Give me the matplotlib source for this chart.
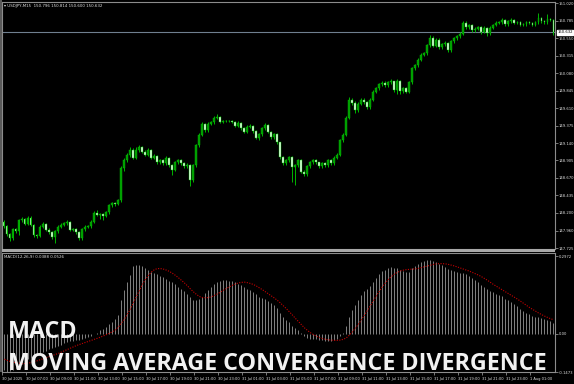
import numpy as np
import matplotlib
matplotlib.use("Agg")
import matplotlib.pyplot as plt
from matplotlib.patches import Rectangle

# -------------------------
# Data (USDJPY M15)
# -------------------------
first_open = 148.08
closes = [
    148.02, 147.91, 147.86, 147.98, 147.95, 148.10, 148.12, 148.05, 148.13, 148.04,
    147.90, 147.89, 148.01, 148.05, 147.97, 147.94, 147.87, 147.95, 148.01, 148.04,
    148.06, 148.08, 147.97, 147.98, 147.94, 147.86, 147.98, 148.01, 148.02, 148.08,
    148.20, 148.17, 148.18, 148.16, 148.21, 148.30, 148.33, 148.32, 148.37, 148.80,
    148.91, 148.98, 149.05, 148.94, 149.05, 149.09, 149.02, 148.98, 149.05, 148.94,
    148.96, 148.88, 148.91, 148.87, 148.94, 148.84, 148.78, 148.88, 148.91, 148.87,
    148.83, 148.84, 148.64, 148.84, 149.11, 149.25, 149.40, 149.31, 149.40, 149.42,
    149.48, 149.49, 149.42, 149.44, 149.43, 149.44, 149.42, 149.37, 149.41, 149.34,
    149.29, 149.36, 149.37, 149.30, 149.21, 149.26, 149.34, 149.38, 149.29, 149.22,
    149.26, 149.15, 148.95, 148.87, 148.91, 148.95, 148.82, 148.84, 148.91, 148.75,
    148.72, 148.83, 148.88, 148.91, 148.88, 148.83, 148.87, 148.84, 148.91, 148.87,
    148.94, 148.98, 149.18, 149.25, 149.48, 149.72, 149.68, 149.58, 149.67, 149.72,
    149.69, 149.62, 149.72, 149.83, 149.88, 149.93, 149.95, 149.92, 149.96, 149.97,
    149.85, 149.97, 149.84, 149.88, 149.83, 149.96, 150.15, 150.19, 150.26, 150.33,
    150.35, 150.46, 150.55, 150.45, 150.53, 150.43, 150.47, 150.49, 150.39, 150.51,
    150.55, 150.58, 150.61, 150.76, 150.70, 150.73, 150.66, 150.68, 150.70, 150.64,
    150.69, 150.62, 150.69, 150.73, 150.76, 150.77, 150.80, 150.74, 150.78, 150.80,
    150.76, 150.77, 150.73, 150.74, 150.77, 150.76, 150.73, 150.77, 150.82, 150.78,
    150.77, 150.81, 150.796, 150.632,
]
highs = [
    148.10, 148.04, 147.93, 148.00, 148.00, 148.12, 148.14, 148.13, 148.16, 148.15,
    148.05, 147.92, 148.03, 148.07, 148.06, 147.99, 147.96, 147.97, 148.03, 148.06,
    148.08, 148.10, 148.09, 148.00, 147.99, 147.95, 148.00, 148.03, 148.04, 148.10,
    148.22, 148.24, 148.20, 148.20, 148.23, 148.32, 148.35, 148.35, 148.39, 148.83,
    148.94, 149.01, 149.08, 149.07, 149.08, 149.12, 149.10, 149.04, 149.07, 149.06,
    148.99, 148.98, 148.93, 148.93, 148.96, 148.95, 148.86, 148.90, 148.93, 148.93,
    148.89, 148.87, 148.86, 148.86, 149.13, 149.27, 149.42, 149.41, 149.42, 149.44,
    149.50, 149.53, 149.50, 149.45, 149.45, 149.45, 149.45, 149.43, 149.43, 149.42,
    149.35, 149.38, 149.39, 149.38, 149.31, 149.28, 149.36, 149.41, 149.40, 149.30,
    149.28, 149.27, 149.16, 148.96, 148.93, 148.97, 148.96, 148.86, 148.93, 148.92,
    148.77, 148.85, 148.90, 148.93, 148.93, 148.89, 148.89, 148.89, 148.93, 148.93,
    148.96, 149.00, 149.20, 149.28, 149.51, 149.76, 149.75, 149.70, 149.69, 149.75,
    149.74, 149.71, 149.74, 149.85, 149.90, 149.95, 149.97, 149.97, 149.98, 150.00,
    149.98, 150.00, 149.99, 149.90, 149.89, 149.98, 150.17, 150.21, 150.28, 150.35,
    150.37, 150.48, 150.60, 150.58, 150.56, 150.56, 150.49, 150.51, 150.50, 150.53,
    150.57, 150.60, 150.64, 150.78, 150.78, 150.75, 150.74, 150.70, 150.72, 150.71,
    150.71, 150.70, 150.71, 150.75, 150.78, 150.79, 150.82, 150.81, 150.80, 150.82,
    150.81, 150.79, 150.78, 150.76, 150.79, 150.78, 150.77, 150.79, 150.89, 150.84,
    150.80, 150.88, 150.83, 150.814,
]
lows = [
    148.00, 147.89, 147.82, 147.84, 147.93, 147.90, 148.08, 148.03, 148.03, 148.02,
    147.88, 147.86, 147.87, 147.99, 147.95, 147.92, 147.85, 147.79, 147.93, 147.99,
    148.02, 148.04, 147.95, 147.95, 147.92, 147.84, 147.84, 147.96, 147.99, 148.00,
    148.06, 148.15, 148.12, 148.10, 148.14, 148.19, 148.28, 148.29, 148.30, 148.35,
    148.76, 148.88, 148.95, 148.92, 148.92, 149.02, 149.00, 148.96, 148.96, 148.92,
    148.92, 148.86, 148.86, 148.85, 148.85, 148.82, 148.71, 148.76, 148.86, 148.85,
    148.81, 148.81, 148.56, 148.62, 148.82, 149.09, 149.23, 149.29, 149.29, 149.38,
    149.40, 149.46, 149.41, 149.41, 149.42, 149.42, 149.41, 149.35, 149.35, 149.32,
    149.27, 149.27, 149.34, 149.28, 149.19, 149.18, 149.24, 149.32, 149.27, 149.20,
    149.20, 149.13, 148.93, 148.85, 148.85, 148.89, 148.61, 148.57, 148.82, 148.73,
    148.69, 148.70, 148.81, 148.86, 148.86, 148.81, 148.81, 148.82, 148.82, 148.85,
    148.85, 148.92, 148.96, 149.15, 149.23, 149.46, 149.65, 149.55, 149.56, 149.65,
    149.67, 149.60, 149.60, 149.70, 149.81, 149.86, 149.91, 149.90, 149.90, 149.94,
    149.83, 149.80, 149.80, 149.82, 149.81, 149.81, 149.94, 150.13, 150.17, 150.24,
    150.31, 150.33, 150.44, 150.43, 150.43, 150.41, 150.41, 150.45, 150.37, 150.37,
    150.49, 150.53, 150.56, 150.59, 150.68, 150.68, 150.64, 150.64, 150.66, 150.61,
    150.62, 150.58, 150.60, 150.67, 150.71, 150.74, 150.75, 150.72, 150.72, 150.76,
    150.74, 150.74, 150.71, 150.71, 150.72, 150.74, 150.71, 150.71, 150.75, 150.76,
    150.75, 150.75, 150.78, 150.600,
]
macd_main = [
    -0.140, -0.147, -0.145, -0.140, -0.135, -0.125, -0.115, -0.107, -0.098, -0.092,
    -0.088, -0.084, -0.078, -0.070, -0.065, -0.060, -0.057, -0.053, -0.048, -0.043,
    -0.038, -0.033, -0.030, -0.027, -0.025, -0.024, -0.021, -0.018, -0.014, -0.009,
    -0.003, 0.004, 0.012, 0.018, 0.026, 0.036, 0.045, 0.055, 0.070, 0.129,
    0.167, 0.198, 0.225, 0.259, 0.263, 0.263, 0.259, 0.251, 0.244, 0.236,
    0.232, 0.228, 0.222, 0.216, 0.210, 0.203, 0.196, 0.188, 0.180, 0.172,
    0.163, 0.153, 0.140, 0.130, 0.128, 0.132, 0.142, 0.155, 0.168, 0.180,
    0.190, 0.198, 0.203, 0.205, 0.205, 0.203, 0.200, 0.196, 0.191, 0.185,
    0.178, 0.172, 0.166, 0.159, 0.150, 0.142, 0.137, 0.133, 0.126, 0.117,
    0.108, 0.097, 0.080, 0.064, 0.052, 0.043, 0.030, 0.020, 0.013, 0.002,
    -0.010, -0.016, -0.019, -0.020, -0.022, -0.025, -0.026, -0.028, -0.027, -0.027,
    -0.025, -0.021, -0.010, 0.002, 0.029, 0.064, 0.090, 0.110, 0.129, 0.148,
    0.163, 0.171, 0.182, 0.198, 0.213, 0.228, 0.240, 0.244, 0.251, 0.255,
    0.251, 0.251, 0.244, 0.240, 0.236, 0.236, 0.251, 0.259, 0.267, 0.274,
    0.278, 0.282, 0.282, 0.278, 0.274, 0.267, 0.263, 0.255, 0.247, 0.244,
    0.240, 0.236, 0.232, 0.232, 0.228, 0.221, 0.213, 0.206, 0.198, 0.186,
    0.178, 0.170, 0.163, 0.158, 0.152, 0.148, 0.143, 0.134, 0.127, 0.121,
    0.115, 0.105, 0.095, 0.086, 0.080, 0.074, 0.068, 0.065, 0.062, 0.059,
    0.056, 0.053, 0.050, 0.040,
]
macd_signal = [
    -0.098, -0.103, -0.107, -0.110, -0.112, -0.114, -0.115, -0.115, -0.113, -0.111,
    -0.108, -0.104, -0.100, -0.096, -0.092, -0.088, -0.084, -0.080, -0.076, -0.071,
    -0.066, -0.061, -0.056, -0.051, -0.046, -0.042, -0.038, -0.034, -0.030, -0.026,
    -0.022, -0.018, -0.014, -0.009, -0.004, 0.001, 0.007, 0.014, 0.025, 0.040,
    0.055, 0.074, 0.095, 0.118, 0.142, 0.165, 0.188, 0.207, 0.223, 0.236,
    0.245, 0.249, 0.249, 0.247, 0.243, 0.238, 0.231, 0.223, 0.214, 0.204,
    0.194, 0.183, 0.171, 0.160, 0.150, 0.142, 0.138, 0.137, 0.138, 0.141,
    0.146, 0.152, 0.159, 0.166, 0.173, 0.179, 0.185, 0.190, 0.194, 0.196,
    0.197, 0.195, 0.192, 0.188, 0.182, 0.175, 0.168, 0.160, 0.152, 0.144,
    0.136, 0.127, 0.117, 0.106, 0.095, 0.083, 0.071, 0.058, 0.046, 0.034,
    0.022, 0.012, 0.003, -0.004, -0.010, -0.015, -0.019, -0.022, -0.024, -0.025,
    -0.026, -0.026, -0.025, -0.022, -0.016, -0.006, 0.007, 0.021, 0.036, 0.053,
    0.071, 0.089, 0.107, 0.126, 0.145, 0.163, 0.180, 0.195, 0.208, 0.219,
    0.228, 0.235, 0.240, 0.243, 0.245, 0.246, 0.247, 0.248, 0.250, 0.253,
    0.256, 0.259, 0.262, 0.265, 0.267, 0.268, 0.268, 0.267, 0.265, 0.262,
    0.259, 0.255, 0.251, 0.247, 0.243, 0.239, 0.234, 0.229, 0.224, 0.218,
    0.211, 0.204, 0.196, 0.188, 0.181, 0.174, 0.167, 0.160, 0.153, 0.146,
    0.139, 0.132, 0.124, 0.116, 0.108, 0.100, 0.093, 0.086, 0.079, 0.073,
    0.067, 0.062, 0.057, 0.053,
]

price_ticks = [151.020, 150.785, 150.550, 150.315, 150.080, 149.845, 149.610,
               149.375, 149.140, 148.905, 148.670, 148.435, 148.200, 147.960, 147.725]
macd_ticks = [0.2972, 0.0, -0.1473]
macd_tick_labels = ["0.2972", "0.00", "-0.1473"]
time_labels = ["30 Jul 2025", "30 Jul 07:00", "30 Jul 09:00", "30 Jul 11:00",
               "30 Jul 13:00", "30 Jul 15:00", "30 Jul 17:00", "30 Jul 19:00",
               "30 Jul 21:00", "30 Jul 23:00", "31 Jul 01:00", "31 Jul 03:00",
               "31 Jul 05:00", "31 Jul 07:00", "31 Jul 09:00", "31 Jul 11:00",
               "31 Jul 13:00", "31 Jul 15:00", "31 Jul 17:00", "31 Jul 19:00",
               "31 Jul 21:00", "31 Jul 23:00", "1 Aug 01:00"]
last_price = 150.632

# -------------------------
# Layout (pixel based)
# -------------------------
W, H = 574, 384
fig = plt.figure(figsize=(W / 100, H / 100), dpi=100, facecolor="black")


def px_axes(x0, y0, x1, y1):
    return fig.add_axes([x0 / W, 1 - y1 / H, (x1 - x0) / W, (y1 - y0) / H])


GRID = "#8c8c8c"
TXT = "#e0e0e0"

ax = px_axes(2, 2, 555, 249)
ax2 = px_axes(2, 253, 555, 372)

for a in (ax, ax2):
    a.set_facecolor("black")
    for s in a.spines.values():
        s.set_color(GRID)
        s.set_linewidth(0.8)
    a.set_xlim(-0.5, 183.5)
    a.yaxis.tick_right()
    a.tick_params(axis="y", colors=GRID, length=2, width=0.6, pad=0.6,
                  labelsize=2.7, labelcolor=TXT)

# -------------------------
# Candles
# -------------------------
n = len(closes)
idx = np.arange(n)
opens = np.array([first_open] + closes[:-1])
closes = np.array(closes)
up = closes >= opens

ax.vlines(idx, lows, highs, color="#00b400", lw=0.7, zorder=2)
body_lo = np.minimum(opens, closes)
body_h = np.maximum(np.abs(closes - opens), 0.004)
ax.bar(idx[up], body_h[up], bottom=body_lo[up], width=0.62,
       color="#009a00", edgecolor="#00c000", linewidth=0.3, zorder=3)
ax.bar(idx[~up], body_h[~up], bottom=body_lo[~up], width=0.62,
       color="#e6ffe6", edgecolor="#00c000", linewidth=0.3, zorder=3)

ax.axhline(last_price, color="#6f7f8f", lw=0.8, zorder=1)
ax.set_ylim(147.712, 151.040)
ax.set_yticks(price_ticks)
ax.set_yticklabels([f"{v:.3f}" for v in price_ticks])
ax.set_xticks([])
ax.text(1.004, last_price, f"{last_price:.3f}", transform=ax.get_yaxis_transform(),
        fontsize=2.7, color="black", va="center", ha="left",
        bbox=dict(boxstyle="square,pad=0.15", fc="white", ec="white"))
ax.text(0.004, 0.982, "\u25be USDJPY,M15  150.796 150.814 150.600 150.632",
        transform=ax.transAxes, fontsize=2.9, color=TXT, va="center", ha="left")

# -------------------------
# MACD panel
# -------------------------
ax2.vlines(idx, 0, macd_main, color="#b4b4b4", lw=0.5, zorder=2)
ax2.plot(idx, macd_signal, color="#c80000", lw=0.8, linestyle=(0, (1, 1.3)), zorder=3)
ax2.set_ylim(-0.1473, 0.3087)
ax2.set_yticks(macd_ticks)
ax2.set_yticklabels(macd_tick_labels)
ax2.text(0.003, 0.97, "MACD(12,26,9) 0.0388 0.0526", transform=ax2.transAxes,
         fontsize=2.9, color=TXT, va="center", ha="left")

tick_pos = np.arange(len(time_labels)) * 8 - 0.8
ax2.set_xticks(tick_pos)
ax2.set_xticklabels(time_labels)
ax2.tick_params(axis="x", colors=GRID, length=2.5, width=0.6, pad=1.2,
                labelsize=2.6, labelcolor=TXT)
for lab in ax2.get_xticklabels():
    lab.set_horizontalalignment("left")

# separator bar and outer frame
fig.add_artist(Rectangle((0, 1 - 252 / H), 555 / W, 3 / H, transform=fig.transFigure,
                         color="#a8a8a8", lw=0))
fig.add_artist(Rectangle((0, 1 - 372 / H), 2 / W, 372 / H, transform=fig.transFigure,
                         color="#5a5a5a", lw=0))

# -------------------------
# Overlay caption
# -------------------------
cap_kw = dict(color="#f2f2f2", fontweight="bold", family=["Open Sans", "DejaVu Sans"],
              va="baseline", ha="left", fontsize=17)
t1 = fig.text(8 / W, 1 - 338 / H, "MACD", **cap_kw)
t2 = fig.text(8 / W, 1 - 370 / H, "MOVING AVERAGE CONVERGENCE DIVERGENCE", **cap_kw)
fig.canvas.draw()
w = t2.get_window_extent().width
fs = 17 * 538 / w
t1.set_fontsize(fs)
t2.set_fontsize(fs)

fig.savefig("out.png", dpi=100, facecolor="black")
